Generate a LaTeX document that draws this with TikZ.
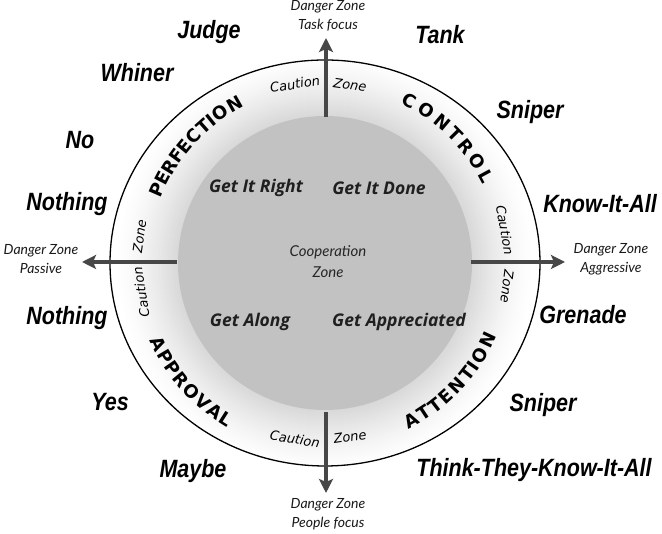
\documentclass[tikz,border=0pt]{standalone}
\usepackage{fontspec}
\usetikzlibrary{arrows.meta}
\newfontfamily\namefont{Liberation Sans}[FakeStretch=0.86]
\newfontfamily\gillfont{Lato}
\newfontfamily\gillbold{Open Sans}
\newfontfamily\capfont{DejaVu Sans}
\newfontfamily\cautfont{DejaVu Sans}
\tikzset{
  persona/.style={font=\namefont\bfseries\itshape\fontsize{25}{25}\selectfont, inner sep=0pt, text=black},
  goal/.style={font=\gillbold\bfseries\itshape\fontsize{17.5}{20}\selectfont, inner sep=0pt, text=black!88},
  danger/.style={font=\gillfont\itshape\fontsize{14}{19}\selectfont, align=center, inner sep=0pt, text=black!90},
  coop/.style={font=\gillfont\itshape\fontsize{15}{21}\selectfont, align=center, inner sep=0pt, text=black!85},
  ringcap/.style={font=\capfont\bfseries\fontsize{18}{18}\selectfont, inner sep=0pt, text=black},
  caution/.style={font=\cautfont\itshape\fontsize{13}{13}\selectfont, inner sep=0pt, text=black},
  axisarrow/.style={line width=4pt, draw=black!72, -{Stealth[length=14pt,width=14pt,inset=3pt]}}
}
\begin{document}
\begin{tikzpicture}[x=1pt,y=1pt]
\useasboundingbox (0,0) rectangle (662,534);
\fill[white] (0,0) rectangle (662,534);
\coordinate (C) at (325,271);
% ring gradient
\begin{scope}
  \clip (C) ellipse [x radius=215, y radius=203];
  \foreach \r in {210,209,...,148}{
    \pgfmathsetmacro\p{15*((210-\r)/62)^1.4}
    \fill[black!\p] (C) circle (\r);
  }
\end{scope}
\fill[black!24] (C) circle (147);
\draw[line width=1.3pt] (C) ellipse [x radius=215, y radius=203];
% axes
\coordinate (tA) at (326,417); \coordinate (tB) at (326,496);
\coordinate (bA) at (326,122); \coordinate (bB) at (326,41);
\coordinate (lA) at (177,272); \coordinate (lB) at (82,272);
\coordinate (rA) at (471,272); \coordinate (rB) at (565,272);
\draw[axisarrow] (tA) -- (tB);
\draw[axisarrow] (bA) -- (bB);
\draw[axisarrow] (lA) -- (lB);
\draw[axisarrow] (rA) -- (rB);
% danger labels
\node[danger] (dzT) at (328,518) {Danger Zone\\Task focus};
\node[danger] (dzB) at (328,20) {Danger Zone\\People focus};
\node[danger] (dzL) at (41,274.5) {Danger Zone\\Passive};
\node[danger] (dzR) at (611,274.5) {Danger Zone\\Aggressive};
% center
\node[goal] (gR) at (256,346) {Get It Right};
\node[goal] (gD) at (379,346) {Get It Done};
\node[goal] (gAl) at (250,212) {Get Along};
\node[goal] (gAp) at (399,212) {Get Appreciated};
\node[coop] (coop) at (328,272) {Cooperation\\Zone};
% ring caps
\foreach \ch/\a [count=\i] in {P/156.5,E/152.4,R/148.3,F/144.2,E/140.4,C/136.0,T/131.6,I/128.6,O/124.9,N/119.7}
  \node[ringcap, rotate=\a-90] (perf\i) at ([shift={(\a:183)}]C) {\ch};
\foreach \ch/\a [count=\i] in {C/62.6,O/56.4,N/50.1,T/44.6,R/39.6,O/33.7,L/28.4}
  \node[ringcap, rotate=\a-90] (ctrl\i) at ([shift={(\a:183)}]C) {\ch};
\foreach \ch/\a [count=\i] in {A/-61.3,T/-56.5,T/-52.2,E/-47.9,N/-43.1,T/-38.1,I/-34.9,O/-30.9,N/-25.3}
  \node[ringcap, rotate=\a+90] (attn\i) at ([shift={(\a:180)}]C) {\ch};
\foreach \ch/\a [count=\i] in {A/-154.1,P/-149.5,P/-145.2,R/-140.9,O/-136.2,V/-131.3,A/-126.6,L/-122.5}
  \node[ringcap, rotate=\a+90] (appr\i) at ([shift={(\a:185)}]C) {\ch};
% caution / zone
\node[caution, rotate=9] (cT) at (295,450) {Caution};
\node[caution, rotate=-8.4] (zT) at (350,449) {Zone};
\node[caution, rotate=82] (zL) at (139.5,297.5) {Zone};
\node[caution, rotate=99] (cL) at (141,242) {Caution};
\node[caution, rotate=-80] (cR) at (505,304) {Caution};
\node[caution, rotate=-97.5] (zR) at (507,247) {Zone};
\node[caution, rotate=-9.7] (cB) at (295,95) {Caution};
\node[caution, rotate=8.2] (zB) at (350,97) {Zone};
% personas
\node[persona] (judge) at (209,502) {Judge};
\node[persona] (whiner) at (137,461) {Whiner};
\node[persona] (no) at (80,394) {No};
\node[persona] (noth1) at (67,330) {Nothing};
\node[persona] (noth2) at (67,216) {Nothing};
\node[persona] (yes) at (110,132) {Yes};
\node[persona] (maybe) at (193,63) {Maybe};
\node[persona] (tank) at (440,499) {Tank};
\node[persona] (snip1) at (530,422) {Sniper};
\node[persona] (know) at (600,330) {Know-It-All};
\node[persona] (gren) at (583,219) {Grenade};
\node[persona] (snip2) at (543,129) {Sniper};
\node[persona] (think) at (534,64) {Think-They-Know-It-All};
\end{tikzpicture}
\end{document}
